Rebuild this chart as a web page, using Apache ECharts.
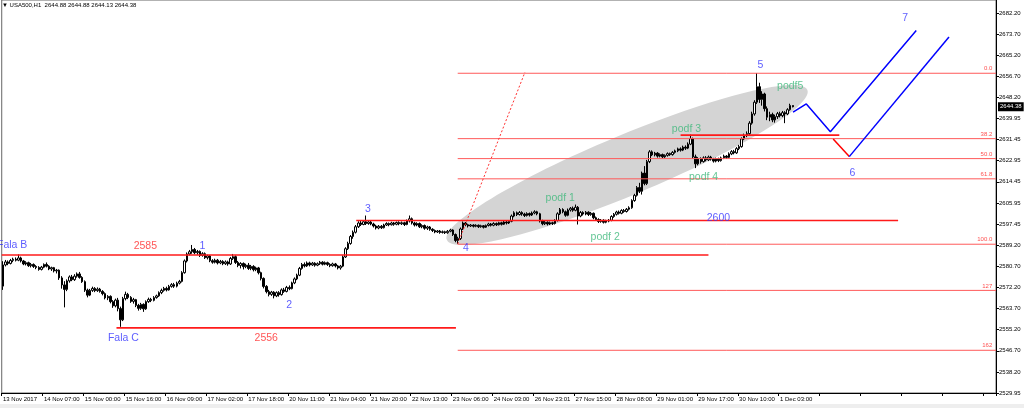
<!DOCTYPE html>
<html><head><meta charset="utf-8">
<script src="https://cdn.jsdelivr.net/npm/echarts@6/dist/echarts.min.js"></script>
<style>html,body{margin:0;padding:0;background:#fff}#c{width:1024px;height:408px}</style>
</head><body><div id="c"></div>
<script>
// Hourly candles, rows are [open, close, low, high]
const seg1 = [ // bars 0-23
[2572.5,2581.0,2571.0,2582.5],[2581.0,2582.2,2580.4,2583.0],[2582.2,2581.6,2580.9,2582.8],[2581.6,2582.8,2581.2,2583.4],
[2582.8,2583.3,2582.1,2583.9],[2583.3,2582.9,2582.4,2584.0],[2582.9,2583.8,2582.5,2585.2],[2583.8,2582.6,2582.0,2584.3],
[2582.6,2581.4,2580.9,2583.0],[2581.4,2581.9,2580.8,2582.5],[2581.9,2580.7,2580.2,2582.3],[2580.7,2581.2,2580.0,2581.8],
[2581.2,2580.4,2579.8,2581.6],[2580.4,2580.0,2579.3,2580.9],[2580.0,2579.2,2578.7,2580.5],[2579.2,2580.1,2578.8,2580.6],
[2580.1,2581.2,2579.7,2581.6],[2581.2,2580.5,2580.0,2582.0],[2580.5,2579.4,2578.9,2580.9],[2579.4,2579.9,2578.6,2580.3],
[2579.9,2578.6,2578.0,2580.2],[2578.6,2578.9,2577.6,2579.4],[2578.9,2575.8,2575.0,2579.2],[2575.8,2573.0,2571.5,2576.5]];
const seg2 = [ // bars 24-47
[2573.0,2571.2,2564.0,2574.5],[2571.2,2574.6,2570.5,2575.2],[2574.6,2576.2,2573.9,2576.8],[2576.2,2575.1,2574.5,2577.0],
[2575.1,2576.5,2574.6,2577.3],[2576.5,2577.4,2575.9,2578.0],[2577.4,2576.0,2575.5,2578.2],[2576.0,2574.3,2573.8,2576.5],
[2574.3,2570.9,2570.2,2574.8],[2570.9,2568.9,2568.0,2571.5],[2568.9,2570.8,2568.5,2571.4],[2570.8,2571.6,2570.2,2572.3],
[2571.6,2570.7,2570.1,2572.1],[2570.7,2571.3,2570.2,2572.0],[2571.3,2570.4,2569.9,2571.8],[2570.4,2569.5,2568.8,2570.9],
[2569.5,2567.8,2567.2,2570.0],[2567.8,2568.4,2566.9,2568.9],[2568.4,2566.3,2565.6,2568.8],[2566.3,2564.6,2563.8,2566.9],
[2564.6,2566.9,2564.0,2567.5],[2566.9,2563.5,2562.4,2567.8],[2563.5,2559.0,2556.2,2564.3],[2559.0,2567.5,2558.5,2568.2]];
const seg3 = [ // bars 48-71
[2567.5,2569.2,2566.8,2570.3],[2569.2,2568.0,2567.3,2569.8],[2568.0,2566.4,2565.8,2568.5],[2566.4,2567.1,2565.5,2567.8],
[2567.1,2564.8,2564.1,2567.4],[2564.8,2563.6,2562.7,2565.4],[2563.6,2565.2,2563.0,2565.8],[2565.2,2563.4,2562.2,2565.6],
[2563.4,2566.3,2563.0,2566.8],[2566.3,2567.2,2565.8,2567.9],[2567.2,2566.8,2566.1,2567.8],[2566.8,2567.9,2566.4,2568.5],
[2567.9,2568.6,2567.5,2569.1],[2568.6,2569.9,2568.2,2570.4],[2569.9,2570.8,2569.3,2571.5],[2570.8,2571.6,2570.3,2572.2],
[2571.6,2571.0,2570.4,2572.3],[2571.0,2572.4,2570.7,2573.0],[2572.4,2573.1,2571.9,2573.7],[2573.1,2572.5,2571.8,2573.8],
[2572.5,2573.7,2572.0,2574.3],[2573.7,2574.4,2573.2,2575.0],[2574.4,2577.9,2574.0,2578.5],[2577.9,2582.6,2577.5,2583.2]];
const seg4 = [ // bars 72-95
[2582.6,2585.4,2582.0,2586.0],[2585.4,2586.3,2584.8,2587.0],[2586.3,2587.2,2585.5,2589.0],[2587.2,2585.9,2585.3,2587.8],
[2585.9,2586.4,2585.1,2587.0],[2586.4,2584.8,2584.2,2586.8],[2584.8,2585.5,2584.3,2586.1],[2585.5,2583.9,2583.4,2586.0],
[2583.9,2584.6,2583.2,2585.1],[2584.6,2582.7,2582.1,2585.0],[2582.7,2582.1,2581.5,2583.3],[2582.1,2582.9,2581.6,2583.5],
[2582.9,2581.8,2581.2,2583.4],[2581.8,2582.4,2581.3,2583.0],[2582.4,2581.5,2580.9,2582.9],[2581.5,2582.2,2581.0,2582.8],
[2582.2,2581.4,2580.7,2582.7],[2581.4,2583.6,2581.0,2584.2],[2583.6,2584.3,2583.0,2585.4],[2584.3,2582.0,2581.4,2584.8],
[2582.0,2580.8,2580.1,2582.6],[2580.8,2581.6,2579.6,2582.1],[2581.6,2580.3,2579.2,2582.0],[2580.3,2580.9,2579.7,2581.5]];
const seg5 = [ // bars 96-119
[2580.9,2579.6,2579.0,2581.8],[2579.6,2580.4,2578.9,2581.0],[2580.4,2579.1,2578.4,2580.9],[2579.1,2579.8,2578.5,2580.3],
[2579.8,2577.9,2577.2,2580.2],[2577.9,2575.6,2574.8,2578.3],[2575.6,2572.4,2571.6,2576.0],[2572.4,2570.3,2569.6,2572.9],
[2570.3,2569.2,2568.4,2571.0],[2569.2,2570.1,2568.6,2570.6],[2570.1,2568.6,2567.6,2570.5],[2568.6,2569.9,2568.1,2570.4],
[2569.9,2569.1,2568.3,2570.5],[2569.1,2571.0,2568.7,2571.6],[2571.0,2570.4,2569.8,2571.8],[2570.4,2572.0,2570.0,2572.6],
[2572.0,2571.5,2570.9,2572.8],[2571.5,2573.8,2571.2,2574.3],[2573.8,2575.4,2573.3,2576.0],[2575.4,2576.9,2574.9,2577.5],
[2576.9,2579.6,2576.5,2580.2],[2579.6,2581.2,2579.1,2581.8],[2581.2,2580.6,2580.0,2582.0],[2580.6,2581.8,2580.2,2582.4]];
const seg6 = [ // bars 120-143
[2581.8,2581.0,2580.4,2582.3],[2581.0,2581.7,2580.6,2582.2],[2581.7,2580.9,2580.3,2582.1],[2580.9,2581.5,2580.5,2582.0],
[2581.5,2582.1,2581.0,2582.6],[2582.1,2581.3,2580.8,2582.5],[2581.3,2581.9,2580.9,2582.4],[2581.9,2581.2,2580.6,2582.3],
[2581.2,2580.7,2580.1,2581.7],[2580.7,2581.4,2580.3,2581.9],[2581.4,2580.6,2580.0,2581.8],[2580.6,2579.8,2579.2,2581.0],
[2579.8,2580.5,2579.1,2581.0],[2580.5,2584.2,2580.1,2584.8],[2584.2,2587.5,2583.8,2588.1],[2587.5,2589.6,2587.0,2590.3],
[2589.6,2592.4,2589.1,2593.0],[2592.4,2594.1,2591.5,2594.8],[2594.1,2596.3,2593.6,2597.0],[2596.3,2597.8,2595.8,2598.5],
[2597.8,2597.2,2596.6,2598.6],[2597.2,2598.3,2596.9,2599.0],[2598.3,2597.6,2597.0,2600.8],[2597.6,2598.2,2597.1,2598.9]];
const seg7 = [ // bars 144-167
[2598.2,2597.4,2596.9,2598.8],[2597.4,2596.6,2596.0,2597.9],[2596.6,2595.8,2595.2,2597.1],[2595.8,2596.5,2595.3,2597.0],
[2596.5,2595.9,2595.4,2597.0],[2595.9,2597.0,2595.6,2597.5],[2597.0,2597.6,2596.6,2598.1],[2597.6,2597.1,2596.5,2598.0],
[2597.1,2597.8,2596.8,2598.3],[2597.8,2597.3,2596.7,2598.2],[2597.3,2598.0,2596.9,2598.4],[2598.0,2597.5,2596.9,2598.5],
[2597.5,2597.9,2597.0,2598.4],[2597.9,2597.2,2596.6,2598.3],[2597.2,2598.6,2596.9,2599.2],[2598.6,2599.5,2598.0,2600.8],
[2599.5,2597.8,2597.2,2600.0],[2597.8,2597.0,2596.4,2598.3],[2597.0,2597.6,2596.5,2598.1],[2597.6,2596.3,2595.8,2598.0],
[2596.3,2596.8,2595.7,2597.3],[2596.8,2595.7,2595.1,2597.2],[2595.7,2596.2,2595.0,2596.7],[2596.2,2595.3,2594.7,2596.6]];
const seg8 = [ // bars 168-191
[2595.3,2594.8,2594.2,2595.7],[2594.8,2594.2,2593.7,2595.2],[2594.2,2594.6,2593.8,2595.0],[2594.6,2594.0,2593.5,2595.0],
[2594.0,2594.3,2593.6,2594.8],[2594.3,2593.9,2593.4,2594.7],[2593.9,2594.5,2593.5,2595.0],[2594.5,2595.0,2594.1,2595.5],
[2595.0,2593.2,2592.6,2595.3],[2593.2,2590.8,2590.1,2593.6],[2590.8,2591.6,2589.4,2592.3],[2591.6,2595.4,2591.0,2596.0],
[2595.4,2597.8,2595.0,2598.4],[2597.8,2597.1,2596.5,2598.2],[2597.1,2596.6,2596.0,2597.5],[2596.6,2597.0,2596.2,2597.4],
[2597.0,2596.5,2596.0,2597.3],[2596.5,2596.9,2596.1,2597.3],[2596.9,2596.3,2595.8,2597.2],[2596.3,2596.7,2595.9,2597.1],
[2596.7,2596.1,2595.6,2597.0],[2596.1,2596.8,2595.8,2597.2],[2596.8,2597.4,2596.4,2597.9],[2597.4,2596.9,2596.4,2597.8]];
const seg9 = [ // bars 192-215
[2596.9,2597.6,2596.5,2598.1],[2597.6,2597.1,2596.6,2598.0],[2597.1,2597.9,2596.8,2598.3],[2597.9,2597.3,2596.8,2598.3],
[2597.3,2598.2,2597.0,2598.6],[2598.2,2597.8,2597.2,2598.7],[2597.8,2598.5,2597.4,2599.0],[2598.5,2600.6,2598.1,2601.2],
[2600.6,2601.9,2600.1,2602.5],[2601.9,2601.2,2600.6,2602.4],[2601.2,2602.0,2600.8,2602.6],[2602.0,2601.4,2600.7,2602.5],
[2601.4,2600.8,2600.2,2601.9],[2600.8,2601.6,2600.4,2602.1],[2601.6,2601.0,2600.4,2602.0],[2601.0,2601.8,2600.6,2602.4],
[2601.8,2602.3,2601.3,2602.9],[2602.3,2601.5,2600.9,2602.7],[2601.5,2598.6,2598.0,2601.9],[2598.6,2597.5,2596.9,2599.1],
[2597.5,2598.1,2597.0,2598.6],[2598.1,2597.4,2596.8,2598.5],[2597.4,2597.9,2597.0,2598.4],[2597.9,2597.6,2597.0,2598.3]];
const seg10 = [ // bars 216-239
[2597.6,2598.8,2597.2,2599.3],[2598.8,2601.5,2598.4,2602.1],[2601.5,2603.2,2601.0,2603.8],[2603.2,2602.3,2601.7,2603.7],
[2602.3,2600.9,2600.3,2602.8],[2600.9,2603.0,2600.5,2603.6],[2603.0,2603.7,2602.4,2604.2],[2603.7,2602.9,2602.3,2604.4],
[2602.9,2604.1,2602.5,2605.2],[2604.1,2600.6,2597.2,2604.6],[2600.6,2602.0,2600.1,2602.6],[2602.0,2601.4,2600.8,2602.5],
[2601.4,2602.1,2600.9,2602.6],[2602.1,2601.2,2600.6,2602.5],[2601.2,2601.7,2600.7,2602.2],[2601.7,2599.9,2599.3,2602.0],
[2599.9,2599.2,2598.6,2600.4],[2599.2,2598.4,2597.8,2599.7],[2598.4,2598.9,2597.9,2599.4],[2598.9,2598.1,2597.6,2599.3],
[2598.1,2598.6,2597.7,2599.1],[2598.6,2598.9,2598.1,2599.4],[2598.9,2600.4,2598.5,2600.9],[2600.4,2601.3,2599.9,2601.8]];
const seg11 = [ // bars 240-263
[2601.3,2602.2,2600.8,2602.7],[2602.2,2601.7,2601.2,2602.8],[2601.7,2602.8,2601.3,2603.3],[2602.8,2602.4,2601.9,2603.4],
[2602.4,2603.3,2602.0,2603.8],[2603.3,2603.9,2602.8,2604.5],[2603.9,2606.8,2603.5,2607.3],[2606.8,2608.9,2606.3,2609.5],
[2608.9,2612.0,2608.4,2612.6],[2612.0,2610.5,2609.8,2613.9],[2610.5,2617.8,2609.2,2618.4],[2617.8,2613.6,2612.9,2620.6],
[2613.6,2622.4,2613.0,2623.1],[2622.4,2626.3,2621.8,2627.0],[2626.3,2625.1,2624.6,2626.9],[2625.1,2625.8,2624.5,2626.3],
[2625.8,2624.6,2624.0,2626.2],[2624.6,2625.2,2624.1,2625.7],[2625.2,2624.3,2623.8,2625.6],[2624.3,2624.9,2623.9,2625.3],
[2624.9,2625.6,2624.4,2626.1],[2625.6,2625.2,2624.7,2626.0],[2625.2,2626.1,2624.8,2626.6],[2626.1,2626.7,2625.6,2627.2]];
const seg12 = [ // bars 264-287
[2626.7,2627.5,2626.2,2628.0],[2627.5,2627.0,2626.4,2628.1],[2627.0,2628.2,2626.6,2628.8],[2628.2,2627.8,2627.1,2628.9],
[2627.8,2629.4,2627.4,2630.1],[2629.4,2631.6,2629.0,2633.2],[2631.6,2624.3,2623.6,2632.0],[2624.3,2621.5,2619.8,2625.2],
[2621.5,2623.6,2620.9,2624.2],[2623.6,2622.4,2621.6,2624.1],[2622.4,2623.9,2622.0,2624.5],[2623.9,2623.1,2622.5,2624.6],
[2623.1,2624.2,2622.6,2624.8],[2624.2,2623.4,2622.8,2624.7],[2623.4,2622.6,2622.0,2623.9],[2622.6,2623.5,2622.1,2624.0],
[2623.5,2622.8,2622.2,2624.0],[2622.8,2623.9,2622.4,2624.4],[2623.9,2624.6,2623.4,2625.2],[2624.6,2624.1,2623.5,2625.0],
[2624.1,2625.5,2623.7,2626.1],[2625.5,2626.4,2625.0,2627.0],[2626.4,2625.9,2625.3,2627.1],[2625.9,2627.6,2625.5,2628.2]];
const seg13 = [ // bars 288-309
[2627.6,2628.4,2627.0,2629.1],[2628.4,2631.5,2628.0,2632.1],[2631.5,2632.8,2631.0,2633.6],[2632.8,2633.6,2632.2,2634.5],
[2633.6,2637.8,2633.1,2638.6],[2637.8,2641.5,2637.2,2642.4],[2641.5,2646.2,2640.8,2647.0],[2646.2,2652.4,2645.5,2657.9],
[2652.4,2647.3,2645.9,2654.0],[2647.3,2649.5,2644.8,2650.6],[2649.5,2643.6,2642.5,2650.0],[2643.6,2640.2,2639.0,2644.5],
[2640.2,2641.3,2638.6,2642.4],[2641.3,2639.1,2638.2,2642.0],[2639.1,2640.4,2638.0,2641.2],[2640.4,2641.6,2639.5,2642.3],
[2641.6,2640.8,2640.1,2642.4],[2640.8,2642.0,2640.2,2642.7],[2642.0,2641.5,2637.8,2642.6],[2641.5,2643.2,2641.0,2643.8],
[2643.2,2644.9,2642.8,2645.6],[2644.88,2644.38,2644.13,2644.88]];

const xTickLabels = ['13 Nov 2017','14 Nov 07:00','15 Nov 00:00','15 Nov 16:00','16 Nov 09:00','17 Nov 02:00','17 Nov 18:00',
 '20 Nov 11:00','21 Nov 04:00','21 Nov 20:00','22 Nov 13:00','23 Nov 06:00','24 Nov 03:00','26 Nov 23:01','27 Nov 15:00',
 '28 Nov 08:00','29 Nov 01:00','29 Nov 17:00','30 Nov 10:00','1 Dec 03:00'];
const yTickLabels = ['2529.95','2538.20','2546.70','2555.20','2563.70','2572.20','2580.70','2589.20','2597.45','2605.95',
 '2614.45','2622.95','2631.45','2639.95','2648.20','2656.70','2665.20','2673.70','2682.20'];

// Fibonacci retracement levels
const fibPrices = [2657.8, 2631.6, 2623.6, 2615.5, 2589.3, 2570.8, 2546.8];
const fibLabels = ['0.0','38.2','50.0','61.8','100.0','127','162'];
const fibRange = [177.9, 388.0];           // bar index span
const fibTrend = [[177.9, 2589.4], [204.2, 2658.2]];

// Horizontal levels: [fromBar, toBar, price]
const redLevels = [[-0.5, 276.0, 2585.0], [44.4, 177.2, 2555.8], [138.2, 350.2, 2598.8], [265.1, 327.2, 2633.0]];

// Wave projections: [bar, price]
const blueWaveA = [[309.1, 2642.2], [314.3, 2645.5], [323.7, 2634.4], [357.3, 2674.9]];
const redWave6 = [[324.8, 2631.5], [331.1, 2624.4]];
const blueWaveB = [[331.1, 2624.4], [370.1, 2672.3]];

// Channel ellipse end points: [bar, price]
const ellipseEnds = [[173.7, 2591.0], [314.7, 2651.1]];

// Text annotations: [bar, price, text]
const blueNotes = [[3.6, 2589.0, 'Fala B'], [78.0, 2588.6, '1'], [112.0, 2565.0, '2'], [142.8, 2603.4, '3'],
 [181.1, 2587.8, '4'], [296.3, 2661.1, '5'], [332.3, 2617.8, '6'], [353.0, 2679.9, '7'], [47.1, 2551.7, 'Fala C'],
 [279.9, 2599.6, '2600']];
const redNotes = [[55.7, 2588.6, '2585'], [103.0, 2551.7, '2556']];
const greenNotes = [[218.0, 2607.6, 'podf 1'], [235.6, 2592.0, 'podf 2'], [267.4, 2635.3, 'podf 3'],
 [274.1, 2616.2, 'podf 4'], [308.0, 2652.5, 'podf5']];

const candles = [].concat(seg1, seg2, seg3, seg4, seg5, seg6, seg7, seg8, seg9, seg10, seg11, seg12, seg13);
const N_CAT = 389;
const cats = Array.from({length: N_CAT}, (_, i) => String(i));
const Y_STEP = 8.4605, Y_MIN = 299 * Y_STEP, Y_MAX = 2687.15;
const FONT = 'Liberation Sans, Arial, sans-serif';
const ELLIPSE_RY = 30;
const last = candles[candles.length - 1];

function segSeries(points, color, width, type) {
  return {type: 'line', xAxisIndex: 1, yAxisIndex: 0, data: points, symbol: 'none', silent: true, z: 5,
    lineStyle: {color: color, width: width, type: type || 'solid'}};
}
function noteSeries(items, color, size) {
  return {type: 'scatter', xAxisIndex: 1, yAxisIndex: 0, symbolSize: 1, silent: true, z: 6,
    itemStyle: {color: 'rgba(0,0,0,0)'},
    label: {show: true, position: 'inside', color: color, fontSize: size, fontFamily: FONT},
    data: items.map(t => ({value: [t[0], t[1]], label: {formatter: t[2]}}))};
}

const series = [];
series.push({
  type: 'custom', xAxisIndex: 1, yAxisIndex: 0, z: 1, silent: true,
  data: [[ellipseEnds[0][0], ellipseEnds[0][1], ellipseEnds[1][0], ellipseEnds[1][1]]],
  renderItem: function (params, api) {
    const p1 = api.coord([api.value(0), api.value(1)]);
    const p2 = api.coord([api.value(2), api.value(3)]);
    const dx = p2[0] - p1[0], dy = p2[1] - p1[1];
    return {type: 'ellipse', x: (p1[0] + p2[0]) / 2, y: (p1[1] + p2[1]) / 2, rotation: -Math.atan2(dy, dx),
      shape: {cx: 0, cy: 0, rx: Math.sqrt(dx * dx + dy * dy) / 2, ry: ELLIPSE_RY}, style: {fill: '#d4d4d4'}};
  }
});
fibPrices.forEach(p => series.push(segSeries([[fibRange[0], p], [fibRange[1] + 0.5, p]], '#ff5a5a', 1)));
series.push(segSeries(fibTrend, '#ff3030', 1, [2, 2]));
redLevels.forEach(l => series.push(segSeries([[l[0], l[2]], [l[1], l[2]]], '#ff1a1a', 1.6)));
series.push(segSeries(blueWaveA, '#0000ff', 1.5));
series.push(segSeries(redWave6, '#ff0000', 1.5));
series.push(segSeries(blueWaveB, '#0000ff', 1.5));
series.push({
  type: 'candlestick', xAxisIndex: 0, yAxisIndex: 0, data: candles, barWidth: 2, z: 3,
  itemStyle: {color: '#ffffff', color0: '#000000', borderColor: '#000000', borderColor0: '#000000', borderWidth: 1},
  markLine: {silent: true, symbol: 'none', lineStyle: {color: 'rgba(0,0,0,0)', width: 1, type: 'solid'},
    label: {show: true, position: 'end', distance: 2, formatter: last[1].toFixed(2), color: '#ffffff',
      backgroundColor: '#000000', padding: [2, 2, 1, 2], fontSize: 6, fontFamily: FONT},
    emphasis: {disabled: true},
    data: [{yAxis: last[1]}]}
});
series.push(noteSeries(blueNotes, '#3434ff', 10.5));
series.push(noteSeries(redNotes, '#ff2a2a', 10.5));
series.push(noteSeries(greenNotes, '#3db87a', 10.5));
series.push({
  type: 'scatter', xAxisIndex: 1, yAxisIndex: 0, symbolSize: 1, silent: true, z: 6,
  itemStyle: {color: 'rgba(0,0,0,0)'},
  label: {show: true, position: [-2, -1], align: 'right', verticalAlign: 'bottom', color: '#ff2020', fontSize: 6, fontFamily: FONT},
  data: fibPrices.map((p, i) => ({value: [fibRange[1], p], label: {formatter: fibLabels[i]}}))
});

const chart = echarts.init(document.getElementById('c'), null, {renderer: 'canvas'});
chart.setOption({
  animation: false,
  backgroundColor: '#fff',
  title: {text: '\u25BC USA500,H1  ' + [last[0], last[3], last[2], last[1]].map(v => v.toFixed(2)).join(' '),
    left: 2, top: 2, padding: 0, textStyle: {fontSize: 6, fontWeight: 'normal', color: '#000', fontFamily: FONT}},
  grid: {left: 0, right: 28, top: 0, bottom: 15, show: true, borderColor: '#666', borderWidth: 1, backgroundColor: '#fff'},
  graphic: [{type: 'rect', left: 0, top: 404, shape: {width: 1024, height: 4}, style: {fill: '#eeeeee'}, silent: true}],
  xAxis: [{
    type: 'category', data: cats, boundaryGap: true,
    axisLine: {onZero: false, lineStyle: {color: '#000', width: 1}},
    axisTick: {show: true, interval: 15, length: 3, lineStyle: {color: '#000'}},
    axisLabel: {interval: 15, align: 'left', margin: 3, fontSize: 6, fontFamily: FONT, color: '#000',
      formatter: (v, i) => xTickLabels[i / 16] || ''},
    splitLine: {show: false}
  }, {
    type: 'value', min: -0.5, max: N_CAT - 0.5, show: false, axisLine: {onZero: false}, splitLine: {show: false}
  }],
  yAxis: {
    type: 'value', position: 'right', min: Y_MIN, max: Y_MAX, interval: Y_STEP, scale: true,
    axisLine: {show: true, onZero: false, lineStyle: {color: '#000'}},
    axisTick: {show: true, inside: false, length: 3, lineStyle: {color: '#000'}},
    axisLabel: {margin: 3, fontSize: 6, fontFamily: FONT, color: '#000', showMaxLabel: false,
      formatter: v => {
        const k = Math.round((v - Y_MIN) / Y_STEP);
        return (k >= 0 && k < yTickLabels.length && Math.abs(v - (Y_MIN + k * Y_STEP)) < 0.05) ? yTickLabels[k] : '';
      }},
    splitLine: {show: false}
  },
  series: series
});
</script></body></html>
